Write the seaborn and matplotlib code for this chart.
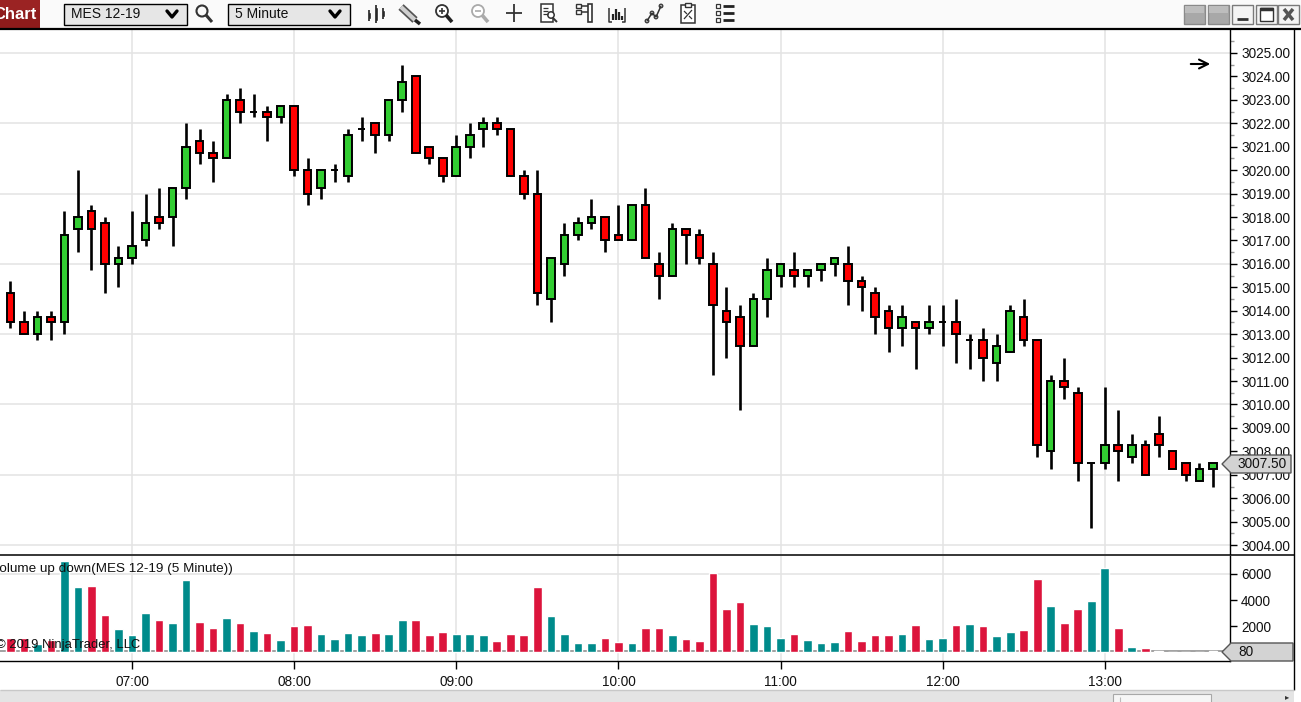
import numpy as np
import pandas as pd
import matplotlib
matplotlib.use("Agg")
import matplotlib.pyplot as plt
from matplotlib.patches import Rectangle, Polygon, Circle
from matplotlib.ticker import MultipleLocator
import seaborn as sns

# ---------------- data ----------------
opens = [3014.75, 3013.5, 3013, 3013.75, 3013.5, 3017.5, 3018.25, 3017.75, 3016, 3016.25,
         3017, 3018, 3018, 3019.25, 3021.25, 3020.75, 3020.5, 3023, 3022.5, 3022.5,
         3022.25, 3022.75, 3020, 3019.25, 3020, 3019.75, 3021.75, 3022, 3021.5, 3023,
         3024, 3021, 3020.5, 3019.75, 3021, 3021.75, 3022, 3021.75, 3019.75, 3019,
         3014.5, 3016, 3017.25, 3017.75, 3018, 3017.25, 3017, 3018.5, 3016, 3015.5,
         3017.5, 3017.25, 3016, 3014, 3013.75, 3012.5, 3014.5, 3015.5, 3015.75, 3015.5,
         3015.75, 3016, 3016, 3015.25, 3014.75, 3014, 3013.25, 3013.5, 3013.25, 3013.5,
         3013.5, 3012.75, 3012.75, 3011.75, 3012.25, 3013.75, 3012.75, 3008, 3011, 3010.5,
         3007.5, 3007.5, 3008.25, 3007.75, 3008.25, 3008.75, 3008, 3007.5, 3006.75, 3007.25]
highs = [3015.25, 3014, 3014, 3014, 3018.25, 3020, 3018.5, 3018, 3016.75, 3018.25,
         3019, 3019.25, 3019.25, 3022, 3021.75, 3021.25, 3023.25, 3023.5, 3023.25, 3022.75,
         3022.75, 3022.75, 3020.5, 3020, 3020.25, 3021.75, 3022.25, 3022, 3023, 3024.5,
         3024, 3021, 3020.5, 3021.5, 3022, 3022.25, 3022.25, 3021.75, 3020, 3020,
         3016.25, 3017.75, 3018, 3018.75, 3018, 3018.5, 3018.5, 3019.25, 3016.5, 3017.75,
         3017.5, 3017.5, 3016.5, 3015, 3014.25, 3014.75, 3016.25, 3016, 3016.5, 3015.75,
         3016, 3016.25, 3016.75, 3015.5, 3015, 3014.25, 3014.25, 3013.5, 3014.25, 3014.25,
         3014.5, 3013, 3013.25, 3013, 3014.25, 3014.5, 3012.75, 3011.25, 3012, 3010.75,
         3007.5, 3010.75, 3009.75, 3008.75, 3008.5, 3009.5, 3008, 3007.5, 3007.5, 3007.5]
lows = [3013.25, 3013, 3012.75, 3012.75, 3013, 3016.5, 3015.75, 3014.75, 3015, 3016,
        3016.75, 3017.5, 3016.75, 3018.75, 3020.25, 3019.5, 3020.5, 3022, 3022.25, 3021.25,
        3022, 3019.75, 3018.5, 3018.75, 3019.5, 3019.5, 3021.25, 3020.75, 3021.25, 3022.5,
        3020.75, 3020.25, 3019.5, 3019.75, 3020.5, 3021, 3021.5, 3019.75, 3018.75, 3014.25,
        3013.5, 3015.5, 3017, 3017.5, 3016.5, 3017, 3017, 3016.25, 3014.5, 3015.5,
        3016, 3016, 3011.25, 3012, 3009.75, 3012.5, 3013.75, 3015, 3015, 3015,
        3015.25, 3015.5, 3014.25, 3014, 3013, 3012.25, 3012.5, 3011.5, 3013, 3012.5,
        3011.75, 3011.5, 3011, 3011, 3012.25, 3012.5, 3007.75, 3007.25, 3010.25, 3006.75,
        3004.75, 3007.25, 3006.75, 3007.5, 3007, 3007.75, 3007.25, 3006.75, 3006.75, 3006.5]
closes = [3013.5, 3013, 3013.75, 3013.5, 3017.25, 3018, 3017.5, 3016, 3016.25, 3016.75,
          3017.75, 3017.75, 3019.25, 3021, 3020.75, 3020.5, 3023, 3022.5, 3022.5, 3022.25,
          3022.75, 3020, 3019, 3020, 3020, 3021.5, 3021.75, 3021.5, 3023, 3023.75,
          3020.75, 3020.5, 3019.75, 3021, 3021.5, 3022, 3021.75, 3019.75, 3019, 3014.75,
          3016.25, 3017.25, 3017.75, 3018, 3017, 3017, 3018.5, 3016.25, 3015.5, 3017.5,
          3017.25, 3016.25, 3014.25, 3013.5, 3012.5, 3014.5, 3015.75, 3016, 3015.5, 3015.75,
          3016, 3016.25, 3015.25, 3015, 3013.75, 3013.25, 3013.75, 3013.25, 3013.5, 3013.5,
          3013, 3012.75, 3012, 3012.5, 3014, 3012.75, 3008.25, 3011, 3010.75, 3007.5,
          3007.5, 3008.25, 3008, 3008.25, 3007, 3008.25, 3007.25, 3007, 3007.25, 3007.5]
volumes = [1100, 1120, 600, 940, 7000, 5000, 5080, 2860, 1790, 1330,
           3010, 2480, 2250, 5540, 2320, 1860, 2630, 2250, 1630, 1480,
           950, 2020, 2090, 1400, 1020, 1480, 1330, 1480, 1400, 2480,
           2480, 1330, 1560, 1400, 1400, 1330, 870, 1400, 1330, 5000,
           2780, 1400, 715, 715, 1100, 790, 715, 1860, 1860, 1330,
           1020, 870, 6080, 3320, 3860, 2170, 2020, 1100, 1400, 950,
           715, 820, 1660, 890, 1350, 1350, 1430, 2120, 1050, 1120,
           2120, 2200, 2040, 1280, 1580, 1740, 5640, 3580, 2270, 3350,
           3960, 6490, 1890, 430, 360, 130, 50, 50, 30, 80]

hour_bars = [9, 21, 33, 45, 57, 69, 81]
hour_labels = ["07:00", "08:00", "09:00", "10:00", "11:00", "12:00", "13:00"]
price_ticks = list(range(3004, 3026))
price_grid = [3004, 3007, 3010, 3013, 3016, 3019, 3022, 3025]
vol_ticks = [2000, 4000, 6000]
vol_grid = [6000]
symbol = "MES 12-19"
period = "5 Minute"
indicator_label = "Volume up down(MES 12-19 (5 Minute))"
copyright_text = "\u00a9 2019 NinjaTrader, LLC"
last_price = 3007.50
last_volume = 80

df = pd.DataFrame({"open": opens, "high": highs, "low": lows,
                   "close": closes, "volume": volumes})
df["idx"] = np.arange(len(df))
df["dir"] = np.where(df["close"] >= df["open"], "up", "down")

# ---------------- figure ----------------
sns.set_theme(style="white")
plt.rcParams['font.family'] = ['Liberation Sans', 'DejaVu Sans']

W, H = 1301, 702
fig = plt.figure(figsize=(W / 100, H / 100), dpi=100)
fig.patch.set_facecolor("white")


def rect(x0, y0, x1, y1):
    return [x0 / W, 1 - y1 / H, (x1 - x0) / W, (y1 - y0) / H]


XLIM = (-0.77, 90.27)
GRID = "#E3E3E3"
TXT = 9.8

# ---------------- price panel ----------------
ax = fig.add_axes(rect(0, 30, 1230, 554))
ax.set_facecolor("white")
for p in price_grid:
    ax.axhline(p, color=GRID, lw=1.1, zorder=0)
for h in hour_bars:
    ax.axvline(h, color=GRID, lw=1.1, zorder=0)

ax.vlines(df["idx"], df["low"], df["high"], color="black", lw=1.9, zorder=2)
body_bottom = np.minimum(df["open"], df["close"])
body_height = (df["close"] - df["open"]).abs()
body_colors = np.where(df["dir"] == "up", "#32CD32", "#FF0000")
ax.bar(df["idx"], body_height, bottom=body_bottom, width=0.56,
       color=body_colors, edgecolor="black", linewidth=1.4, zorder=3)

ax.set_xlim(*XLIM)
ax.set_ylim(3003.62, 3025.98)
ax.set_yticks(price_ticks)
ax.set_yticklabels([f"{p:.2f}" for p in price_ticks])
ax.yaxis.set_minor_locator(MultipleLocator(0.5))
ax.yaxis.tick_right()
ax.tick_params(axis="y", which="major", direction="out", length=5, width=1,
               color="black", labelsize=TXT, pad=3, right=True, left=False,
               labelcolor="#111111")
ax.tick_params(axis="y", which="minor", direction="out", length=3, width=1,
               color="#9A9A9A", right=True, left=False)
ax.set_xticks(hour_bars)
ax.tick_params(axis="x", bottom=False, labelbottom=False)
ax.grid(False)
for s in ["top", "left", "bottom"]:
    ax.spines[s].set_visible(False)
ax.spines["right"].set_color("black")
ax.spines["right"].set_linewidth(1)

# ---------------- volume panel ----------------
axv = fig.add_axes(rect(0, 556, 1230, 661))
axv.set_facecolor("white")
for v in vol_grid:
    axv.axhline(v, color=GRID, lw=1.1, zorder=0)
for h in hour_bars:
    axv.axvline(h, color=GRID, lw=1.1, zorder=0)
sns.barplot(data=df, x="idx", y="volume", hue="dir",
            palette={"up": "#008B8B", "down": "#DC143C"},
            native_scale=True, width=0.64, dodge=False, legend=False,
            saturation=1, errorbar=None, ax=axv, zorder=2)
axv.axhline(last_volume, color="#9A9A9A", lw=1.3, zorder=1)
axv.set_xlim(*XLIM)
axv.set_ylim(-667, 7379)
axv.set_yticks(vol_ticks)
axv.set_yticklabels([str(v) for v in vol_ticks])
axv.yaxis.tick_right()
axv.tick_params(axis="y", direction="out", length=5, width=1, color="black",
                labelsize=TXT, pad=3, right=True, left=False, labelcolor="#111111")
axv.set_xticks(hour_bars)
axv.set_xticklabels(hour_labels)
axv.tick_params(axis="x", direction="out", length=6, width=1, color="black",
                labelsize=TXT, pad=4, bottom=True, labelcolor="#111111")
axv.set_xlabel("")
axv.set_ylabel("")
axv.grid(False)
for s in ["top", "left"]:
    axv.spines[s].set_visible(False)
for s in ["right", "bottom"]:
    axv.spines[s].set_color("black")
    axv.spines[s].set_linewidth(1)

# ---------------- overlay: frame, toolbar, labels ----------------
ov = fig.add_axes([0, 0, 1, 1], zorder=10)
ov.set_xlim(0, W)
ov.set_ylim(H, 0)
ov.axis("off")
ov.patch.set_alpha(0)


def line(xs, ys, **kw):
    kw.setdefault("color", "black")
    kw.setdefault("lw", 1)
    kw.setdefault("solid_capstyle", "butt")
    ov.plot(xs, ys, **kw)


# panel separators / frame
line([0, 1294], [555, 555], lw=1.1)
line([1294, 1294], [29, 690], lw=1)

# scrollbar
ov.add_patch(Rectangle((0, 690), 1294, 12, facecolor="#E4E4E4", edgecolor="none"))
line([0, 1294], [690, 690], color="#C8C8C8", lw=1)
ov.add_patch(Rectangle((1113, 694), 98, 9, facecolor="#F6F6F6", edgecolor="#A8A8A8", lw=0.8))
line([1120, 1120], [697, 702], color="#BBBBBB", lw=0.8)
ov.text(1287, 697, "\u25b8", fontsize=6, ha="center", va="center", color="#333333",
        family="DejaVu Sans")

# indicator texts (cut off at the left edge as in the reference)
ov.text(-9, 569, indicator_label, fontsize=9.7, ha="left", va="center", color="#111111")
ov.text(-4, 645, copyright_text, fontsize=9.4, ha="left", va="center", color="#111111")

# arrow top right
ov.annotate("", xy=(1213, 64), xytext=(1188, 64),
            arrowprops=dict(arrowstyle="->", color="black", lw=1.5,
                            mutation_scale=16))


# last price / last volume markers
def marker(yc, x_right, text):
    pts = [(1222, yc), (1231, yc - 9), (x_right, yc - 9), (x_right, yc + 9), (1231, yc + 9)]
    ov.add_patch(Polygon(pts, closed=True, facecolor="#D3D3D3", edgecolor="#555555", lw=1))
    ov.text(1238, yc + 0.5, text, fontsize=TXT, ha="left", va="center", color="#111111")


marker(464, 1291, f"{last_price:.2f}")
marker(652, 1293, f"{last_volume}")

# toolbar
ov.add_patch(Rectangle((0, 0), W, 28, facecolor="#FAFAFA", edgecolor="none"))
ov.add_patch(Rectangle((0, 0), 40, 28, facecolor="#8E1B1B", edgecolor="none"))
ov.add_patch(Rectangle((0, 0), 40, 10, facecolor="#A52A2A", edgecolor="none", alpha=0.6))
ov.text(-7, 14.5, "Chart", fontsize=12, fontweight="bold", color="white",
        ha="left", va="center")
line([0, W], [28.5, 28.5], lw=1.6)


def combo(x0, x1, text):
    ov.add_patch(Rectangle((x0, 4), x1 - x0, 21, facecolor="#E6E6E6", edgecolor="black", lw=1))
    ov.text(x0 + 7, 14.5, text, fontsize=10, ha="left", va="center", color="#111111")
    cx = x1 - 15
    line([cx - 5, cx, cx + 5], [11, 17, 11], lw=2.4, solid_capstyle="round")


combo(64, 187, symbol)
combo(228, 350, period)

# magnifier
ov.add_patch(Circle((202, 11), 5.5, facecolor="none", edgecolor="#333333", lw=1.5))
line([206, 212], [15, 22], color="#333333", lw=2.2)

# candlestick icon
line([369, 369], [10, 21], lw=1.2, color="#222222")
ov.add_patch(Rectangle((367.5, 12), 3, 7, facecolor="#222222"))
line([376, 376], [5, 23], lw=1.2, color="#222222")
ov.add_patch(Rectangle((374.5, 7), 3, 14, facecolor="#222222"))
line([383, 383], [8, 19], lw=1.2, color="#222222")
ov.add_patch(Rectangle((381.5, 10), 3, 7, facecolor="#222222"))

# pencil
line([401, 415], [7, 20], color="#555555", lw=5.5)
line([401, 415], [7, 20], color="#CFCFCF", lw=3)
line([415, 420], [20, 24], color="#222222", lw=2.5)

# zoom in / zoom out
ov.add_patch(Circle((442, 11), 6, facecolor="white", edgecolor="#333333", lw=1.3))
line([439, 445], [11, 11], color="#333333", lw=1.2)
line([442, 442], [8, 14], color="#333333", lw=1.2)
line([446, 452], [15, 22], color="#222222", lw=2.6)
ov.add_patch(Circle((478, 11), 6, facecolor="white", edgecolor="#AAAAAA", lw=1.3))
line([475, 481], [11, 11], color="#AAAAAA", lw=1.2)
line([482, 488], [15, 22], color="#AAAAAA", lw=2.6)

# crosshair
line([506, 522], [13, 13], color="#333333", lw=1.3)
line([514, 514], [4, 22], color="#333333", lw=1.3)

# document search
ov.add_patch(Rectangle((541, 4), 12, 18, facecolor="white", edgecolor="#333333", lw=1.1))
for yy in (8, 11, 14):
    line([543, 548], [yy, yy], color="#333333", lw=0.9)
ov.add_patch(Circle((551, 15), 3.2, facecolor="white", edgecolor="#333333", lw=1.1))
line([553, 557], [18, 22], color="#333333", lw=1.4)

# bracket icon
ov.add_patch(Rectangle((576, 4), 5, 4, facecolor="white", edgecolor="#333333", lw=1))
ov.add_patch(Rectangle((576, 10), 5, 4, facecolor="white", edgecolor="#333333", lw=1))
line([581, 588], [6, 6], color="#333333", lw=1.1)
line([581, 588], [12, 12], color="#333333", lw=1.1)
ov.add_patch(Rectangle((588, 4), 4, 18, facecolor="white", edgecolor="#333333", lw=1.2))

# bars icon
line([609, 609, 612], [8, 22, 22], color="#333333", lw=1.1)
line([625, 625, 622], [8, 22, 22], color="#333333", lw=1.1)
for xx, y0 in zip([613, 616, 619, 622], [14, 9, 12, 16]):
    line([xx, xx], [y0, 20], color="#222222", lw=1.6)

# line chart icon
ov.plot([647, 652, 656, 661], [21, 13, 17, 6], color="#333333", lw=1.1)
for xx, yy in zip([647, 652, 656, 661], [21, 13, 17, 6]):
    ov.add_patch(Circle((xx, yy), 1.8, facecolor="white", edgecolor="#333333", lw=0.9))

# clipboard icon
ov.add_patch(Rectangle((681, 5), 14, 18, facecolor="white", edgecolor="#333333", lw=1.1))
ov.add_patch(Rectangle((685, 3), 6, 4, facecolor="white", edgecolor="#333333", lw=1))
line([684, 692], [19, 10], color="#333333", lw=0.9)
line([684, 687], [11, 14], color="#333333", lw=0.9)
line([689, 692], [16, 19], color="#333333", lw=0.9)

# list icon
for yy in (6, 13, 20):
    ov.add_patch(Rectangle((716, yy - 2), 4, 4, facecolor="white", edgecolor="#333333", lw=0.9))
    line([723, 734], [yy, yy], color="#222222", lw=2)

# window buttons
for x0 in (1184, 1208):
    ov.add_patch(Rectangle((x0, 5), 21, 19, facecolor="#A8A8A8", edgecolor="#8A8A8A", lw=1))
    ov.add_patch(Rectangle((x0 + 1, 6), 19, 7, facecolor="#BDBDBD", edgecolor="none"))
for x0 in (1232, 1256, 1278):
    ov.add_patch(Rectangle((x0, 5), 21, 19, facecolor="#F4F4F4", edgecolor="#7A7A7A", lw=1))
line([1237, 1248], [19, 19], color="#333333", lw=2)
ov.add_patch(Rectangle((1260, 8), 13, 13, facecolor="white", edgecolor="#333333", lw=1))
line([1260, 1273], [9, 9], color="#333333", lw=2.5)
line([1284, 1293], [9, 20], color="#555555", lw=2.5)
line([1284, 1293], [20, 9], color="#555555", lw=2.5)

fig.savefig("out.png", dpi=100, facecolor="white")
